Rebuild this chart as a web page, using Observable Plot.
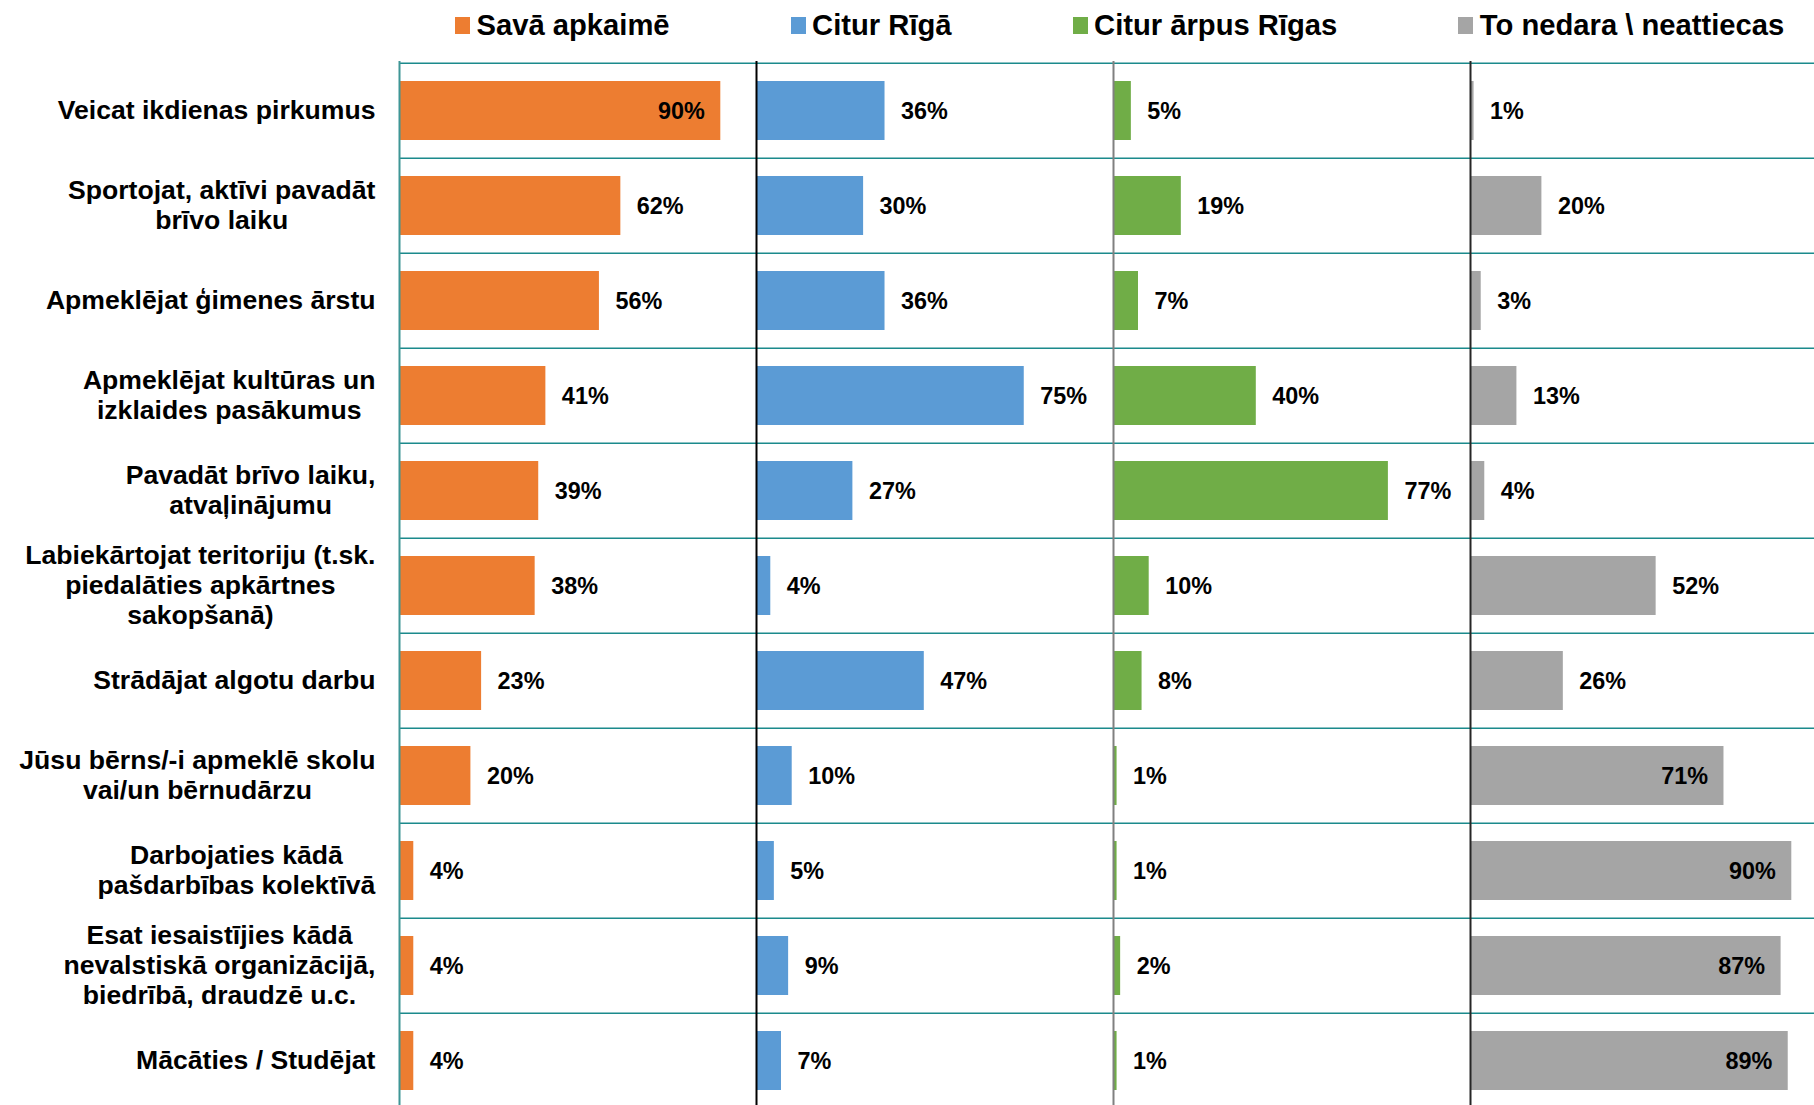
<!DOCTYPE html>
<html>
<head>
<meta charset="utf-8">
<script src="https://cdn.jsdelivr.net/npm/d3@7"></script>
<script src="https://cdn.jsdelivr.net/npm/@observablehq/plot@0.6"></script>
<style>
html, body { margin: 0; padding: 0; background: #fff; overflow: hidden; width: 1814px; height: 1105px; }
body { font-family: "Liberation Sans", Arial, sans-serif; }
#legend { height: 52px; display: flex; gap: 121px; padding-left: 455px; box-sizing: border-box; }
.item { display: flex; align-items: center; margin-top: 11px; height: 29px; font-size: 29.2px; font-weight: bold; line-height: 29px; white-space: nowrap; color: #000; }
.sw { width: 15px; height: 17px; margin-right: 6.5px; flex: none; }
#chart svg { max-width: none !important; }
</style>
</head>
<body>
<div id="legend"></div>
<div id="chart"></div>
<script>
// ---- data ----
const categories = [
  "Veicat ikdienas pirkumus",
  "Sportojat, aktīvi pavadāt\nbrīvo laiku",
  "Apmeklējat ģimenes ārstu",
  "Apmeklējat kultūras un\nizklaides pasākumus",
  "Pavadāt brīvo laiku,\natvaļinājumu",
  "Labiekārtojat teritoriju (t.sk.\npiedalāties apkārtnes\nsakopšanā)",
  "Strādājat algotu darbu",
  "Jūsu bērns/-i apmeklē skolu\nvai/un bērnudārzu",
  "Darbojaties kādā\npašdarbības kolektīvā",
  "Esat iesaistījies kādā\nnevalstiskā organizācijā,\nbiedrībā, draudzē u.c.",
  "Mācāties / Studējat"
];
const series = ["Savā apkaimē", "Citur Rīgā", "Citur ārpus Rīgas", "To nedara \\ neattiecas"];
const colors = ["#ED7D31", "#5B9BD5", "#70AD47", "#A5A5A5"];
const savaApkaime   = [90, 62, 56, 41, 39, 38, 23, 20, 4, 4, 4];
const citurRiga     = [36, 30, 36, 75, 27, 4, 47, 10, 5, 9, 7];
const arpusRigas    = [5, 19, 7, 40, 77, 10, 8, 1, 1, 2, 1];
const nedara        = [1, 20, 3, 13, 4, 52, 26, 71, 90, 87, 89];

// ---- style / layout ----
const axisColors = ["#3f9696", "#000000", "#808080", "#262626"];
const insideFrom = [80, 80, 80, 60]; // label placed inside bar from this value on
const gridColor = "#1b8a8c";
const W = 1827.5, ML = 397.5, MT = 9, rowH = 95.33;
const H = Math.round(MT + rowH * categories.length + 5);
const font = "Liberation Sans, Arial, sans-serif";

const values = [savaApkaime, citurRiga, arpusRigas, nedara];
const data = series.flatMap((s, j) => categories.map((c, i) => ({
  series: s, category: c, value: values[j][i], inside: values[j][i] >= insideFrom[j]
})));

// legend
const legend = document.getElementById("legend");
series.forEach((s, j) => {
  const it = document.createElement("div");
  it.className = "item";
  const sw = document.createElement("span");
  sw.className = "sw";
  sw.style.background = colors[j];
  const tx = document.createElement("span");
  tx.textContent = s;
  it.append(sw, tx);
  legend.append(it);
});

const chart = Plot.plot({
  width: W, height: H,
  marginLeft: ML, marginRight: 0, marginTop: MT, marginBottom: H - MT - rowH * categories.length,
  style: { fontFamily: font, overflow: "visible", background: "#fff", maxWidth: "none" },
  x: { domain: [0, 100], axis: null },
  y: { domain: categories, padding: 0 },
  fx: { domain: series, padding: 0, axis: null },
  color: { domain: series, range: colors },
  marks: [
    Plot.ruleY(categories, { y: d => d, dy: -rowH / 2, stroke: gridColor, strokeWidth: 1.5 }),
    Plot.ruleY(categories.slice(-1), { y: d => d, dy: rowH / 2, stroke: gridColor, strokeWidth: 1.5 }),
    Plot.barX(data, { fx: "series", y: "category", x: "value", fill: "series", insetTop: 18, insetBottom: 18 }),
    ...series.map((s, j) => Plot.ruleX([{ series: s }], { fx: "series", x: () => 0, stroke: axisColors[j], strokeWidth: 2 })),
    Plot.text(data.filter(d => !d.inside), {
      fx: "series", y: "category", x: "value", text: d => d.value + "%",
      textAnchor: "start", dx: 16, fontSize: 23.4, fontWeight: "bold", fill: "#000"
    }),
    Plot.text(data.filter(d => d.inside), {
      fx: "series", y: "category", x: "value", text: d => d.value + "%",
      textAnchor: "end", dx: -16, fontSize: 23.4, fontWeight: "bold", fill: "#000"
    }),
    Plot.axisY({ tickSize: 0, tickPadding: 24, dy: -2, fontSize: 26.6, fontWeight: "bold", lineHeight: 1.13, label: null, fill: "#000" })
  ]
});
document.getElementById("chart").append(chart);

// centre the lines of each multi-line category label inside its right-aligned block
chart.querySelectorAll('g[aria-label="y-axis tick label"] text').forEach(t => {
  const w = t.getBBox().width;
  t.setAttribute("text-anchor", "middle");
  const tspans = t.querySelectorAll("tspan");
  if (tspans.length) tspans.forEach(ts => ts.setAttribute("x", -w / 2));
  else t.setAttribute("x", -w / 2);
});
</script>
</body>
</html>
